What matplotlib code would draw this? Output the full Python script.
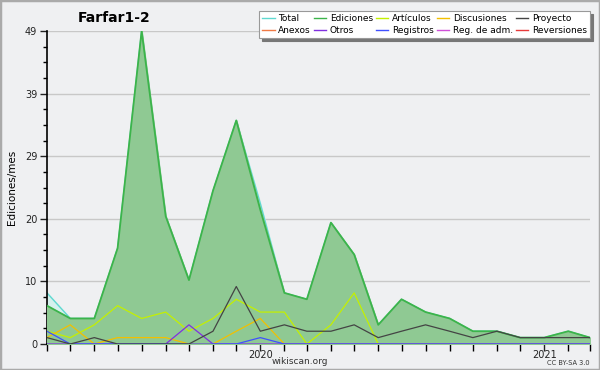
import pandas as pd
import matplotlib
matplotlib.use("Agg")
import matplotlib.pyplot as plt
import matplotlib.dates as mdates
from matplotlib.lines import Line2D
from matplotlib.patches import Rectangle

# meses: abril 2019 - marzo 2021
meses = pd.date_range("2019-04-01", periods=24, freq="MS")

total = [8, 4, 4, 15, 49, 20, 10, 24, 35, 22, 8, 7, 19, 14, 3, 7, 5, 4, 2, 2, 1, 1, 2, 1]
ediciones = [6, 4, 4, 15, 49, 20, 10, 24, 35, 21, 8, 7, 19, 14, 3, 7, 5, 4, 2, 2, 1, 1, 2, 1]
articulos = [2, 1, 3, 6, 4, 5, 2, 4, 7, 5, 5, 0, 3, 8, 0, 0, 0, 0, 0, 0, 0, 0, 0, 0]
discusiones = [1, 3, 0, 1, 1, 1, 0, 0, 2, 4, 0, 0, 0, 0, 0, 0, 0, 0, 0, 0, 0, 0, 0, 0]
proyecto = [1, 0, 1, 0, 0, 0, 0, 2, 9, 2, 3, 2, 2, 3, 1, 2, 3, 2, 1, 2, 1, 1, 1, 1]
otros = [0, 0, 0, 0, 0, 0, 3, 0, 0, 0, 0, 0, 0, 0, 0, 0, 0, 0, 0, 0, 0, 0, 0, 0]
registros = [2, 0, 0, 0, 0, 0, 0, 0, 0, 1, 0, 0, 0, 0, 0, 0, 0, 0, 0, 0, 0, 0, 0, 0]

y_max = 49
y_ticks = [0, 9.8, 19.6, 29.4, 39.2, 49]
y_labels = ["0", "10", "20", "29", "39", "49"]

colores = {
    "Total": "#5fd8d0",
    "Ediciones": "#3cb44b",
    "Artículos": "#c4f000",
    "Discusiones": "#f2c000",
    "Proyecto": "#444444",
    "Anexos": "#f07a45",
    "Otros": "#8030e0",
    "Registros": "#4050ff",
    "Reg. de adm.": "#d050d8",
    "Reversiones": "#e83a3a",
}

bg = "#eff0f2"
fig = plt.figure(figsize=(6, 3.7), dpi=100, facecolor=bg)
ax = fig.add_axes([47 / 600, 1 - 344 / 370, 543 / 600, 313 / 370])
ax.set_facecolor(bg)

# areas
ax.fill_between(meses, total, color="#d6f1ee", zorder=1)
ax.plot(meses, total, color=colores["Total"], lw=1, zorder=2)
ax.fill_between(meses, ediciones, color="#8fc993", zorder=3)
ax.plot(meses, ediciones, color=colores["Ediciones"], lw=1.3, zorder=4)

# lineas
ax.plot(meses, articulos, color=colores["Artículos"], lw=0.9, zorder=5)
ax.plot(meses, discusiones, color=colores["Discusiones"], lw=0.9, zorder=5)
ax.plot(meses, otros, color=colores["Otros"], lw=0.9, zorder=5)
ax.plot(meses, registros, color=colores["Registros"], lw=0.9, zorder=5)
ax.plot(meses, proyecto, color=colores["Proyecto"], lw=0.9, zorder=6)

ax.set_xlim(meses[0], meses[-1])
ax.set_ylim(0, y_max)

ax.set_yticks(y_ticks)
ax.set_yticklabels(y_labels)
ax.set_yticks([v * 2.45 for v in range(21)], minor=True)
ax.grid(axis="y", color="#c8c8c8", lw=1)
ax.set_axisbelow(True)

ax.xaxis.set_minor_locator(mdates.MonthLocator())
ax.xaxis.set_major_locator(mdates.YearLocator())
ax.xaxis.set_major_formatter(mdates.DateFormatter("%Y"))

for s in ["top", "right"]:
    ax.spines[s].set_visible(False)
ax.spines["left"].set_linewidth(1.2)
ax.spines["bottom"].set_linewidth(1.2)
ax.tick_params(axis="both", which="major", labelsize=7, length=5, width=1, colors="#222222", pad=2)
ax.tick_params(axis="x", which="minor", length=5, width=1)
ax.tick_params(axis="y", which="minor", length=3, width=1)
ax.tick_params(axis="x", which="major", pad=-1)

ax.set_ylabel("Ediciones/mes", fontsize=7.5)
ax.yaxis.set_label_coords(-0.055, 0.5)

fig.text(114 / 600, 1 - 18 / 370, "Farfar1-2", fontsize=10, fontweight="bold", ha="center", va="center")
fig.text(300 / 600, 1 - 362 / 370, "wikiscan.org", fontsize=6.5, ha="center", va="center", color="#333333")
fig.text(590 / 600, 1 - 363 / 370, "CC BY-SA 3.0", fontsize=4.8, ha="right", va="center", color="#333333")

# leyenda
orden = ["Total", "Anexos", "Ediciones", "Otros", "Artículos", "Registros",
         "Discusiones", "Reg. de adm.", "Proyecto", "Reversiones"]
handles = [Line2D([], [], color=colores[n], lw=1) for n in orden]
leg = fig.legend(handles, orden, ncol=5, loc="upper right", bbox_to_anchor=(590 / 600, 1 - 11 / 370),
                 fontsize=6.5, frameon=True, fancybox=False, shadow={"color": "#777777", "alpha": 1},
                 handlelength=1.4, handletextpad=0.4, columnspacing=0.3, labelspacing=0.3,
                 borderpad=0.35, borderaxespad=0)
leg.get_frame().set_facecolor("white")
leg.get_frame().set_edgecolor("#999999")
leg.get_frame().set_linewidth(0.8)

fig.patches.append(Rectangle((0, 0), 1, 1, transform=fig.transFigure, fill=False,
                             edgecolor="#aaaaaa", lw=2.5))

fig.savefig("out.png", dpi=100, facecolor=bg)
